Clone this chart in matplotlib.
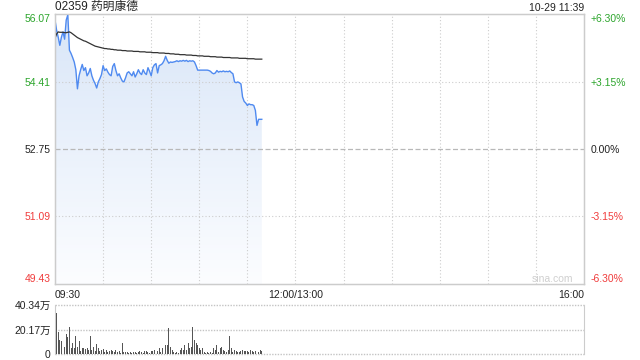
import numpy as np
import matplotlib
matplotlib.use('Agg')
import matplotlib.pyplot as plt
from matplotlib.colors import LinearSegmentedColormap

plt.rcParams['font.family'] = ['Liberation Sans', 'Noto Sans CJK SC', 'DejaVu Sans']

# ---- data (one value per minute from 09:30) ----
title = '02359 药明康德'
stamp = '10-29 11:39'

prices = [
    55.92, 55.67, 55.50, 55.30, 55.50, 55.63, 55.45, 55.92, 56.05, 55.18,
    55.10, 55.00, 54.89, 54.70, 54.23, 54.55, 54.70, 54.83, 54.68, 54.75,
    54.55, 54.62, 54.73, 54.55, 54.44, 54.36, 54.25, 54.40, 54.48, 54.58,
    54.80, 54.68, 54.72, 54.64, 54.58, 54.55, 54.78, 54.85, 54.68, 54.55,
    54.60, 54.50, 54.42, 54.40, 54.50, 54.62, 54.65, 54.60, 54.55, 54.65,
    54.52, 54.60, 54.70, 54.62, 54.58, 54.70, 54.62, 54.58, 54.75, 54.66,
    54.55, 54.75, 54.82, 54.85, 54.62, 54.80, 54.82, 54.85, 54.92, 55.03,
    54.93, 54.86, 54.89, 54.88, 54.89, 54.90, 54.92, 54.90, 54.92, 54.91,
    54.93, 54.91, 54.93, 54.90, 54.92, 54.91, 54.92, 54.89, 54.80, 54.69,
    54.69, 54.69, 54.69, 54.69, 54.69, 54.69, 54.68, 54.66, 54.62, 54.60,
    54.62, 54.68, 54.64, 54.66, 54.65, 54.67, 54.65, 54.66, 54.65, 54.67,
    54.63, 54.60, 54.40, 54.38, 54.40, 54.38, 54.35, 54.03, 53.92, 53.88,
    53.82, 53.86, 53.84, 53.84, 53.82, 53.70, 53.33, 53.48, 53.48, 53.48,
]

avg_prices = [
    55.47, 55.58, 55.63, 55.62, 55.62, 55.62, 55.61, 55.61, 55.62, 55.63,
    55.61, 55.58, 55.55, 55.52, 55.49, 55.47, 55.45, 55.43, 55.41, 55.40,
    55.38, 55.36, 55.34, 55.32, 55.30, 55.28, 55.27, 55.26, 55.25, 55.24,
    55.23, 55.22, 55.22, 55.21, 55.21, 55.20, 55.20, 55.19, 55.19, 55.18,
    55.18, 55.18, 55.17, 55.17, 55.17, 55.16, 55.16, 55.16, 55.16, 55.15,
    55.15, 55.15, 55.15, 55.14, 55.14, 55.14, 55.14, 55.13, 55.13, 55.13,
    55.13, 55.12, 55.12, 55.12, 55.12, 55.11, 55.11, 55.11, 55.11, 55.10,
    55.10, 55.10, 55.09, 55.09, 55.09, 55.08, 55.08, 55.08, 55.07, 55.07,
    55.07, 55.07, 55.06, 55.06, 55.06, 55.06, 55.05, 55.05, 55.05, 55.04,
    55.04, 55.04, 55.04, 55.03, 55.03, 55.03, 55.03, 55.02, 55.02, 55.02,
    55.02, 55.01, 55.01, 55.01, 55.01, 55.00, 55.00, 55.00, 55.00, 55.00,
    54.99, 54.99, 54.99, 54.99, 54.99, 54.98, 54.98, 54.98, 54.98, 54.98,
    54.97, 54.97, 54.97, 54.97, 54.97, 54.96, 54.96, 54.96, 54.96, 54.96,
]

# volume in 万 shares
volumes = [
    40.3, 33.5, 18.4, 11.5, 10.7, 21.1, 6.0, 16.5, 14.3, 22.5,
    4.7, 9.3, 4.7, 14.8, 6.0, 11.0, 2.7, 4.7, 4.7, 3.8,
    4.7, 3.3, 14.8, 3.3, 6.0, 2.7, 8.0, 4.7, 2.5, 3.3,
    3.8, 1.9, 3.3, 1.9, 2.7, 3.3, 2.5, 1.9, 3.3, 1.9,
    2.5, 1.1, 9.3, 1.6, 1.4, 1.9, 1.1, 1.6, 0.8, 1.4,
    1.9, 1.1, 1.6, 2.2, 1.4, 1.1, 2.5, 2.7, 1.9, 1.1,
    2.2, 2.7, 3.3, 7.4, 2.2, 4.7, 1.6, 4.7, 6.0, 7.4,
    7.4, 21.1, 6.0, 3.3, 1.4, 0.8, 1.9, 1.1, 3.3, 4.7,
    3.3, 7.4, 3.3, 8.8, 4.7, 6.0, 22.5, 11.5, 8.8, 7.4,
    4.7, 3.3, 4.7, 1.9, 1.1, 1.9, 1.1, 1.4, 0.8, 4.7,
    3.3, 7.4, 1.9, 4.7, 6.0, 3.3, 2.5, 1.9, 3.3, 14.8,
    4.7, 1.9, 3.3, 2.7, 1.9, 1.9, 2.7, 3.3, 2.7, 2.7,
    2.5, 1.9, 3.3, 2.5, 1.9, 2.5, 3.3, 1.9, 3.3, 2.5,
]

price_ticks = [49.43, 51.09, 52.75, 54.41, 56.07]
price_labels = ['49.43', '51.09', '52.75', '54.41', '56.07']
pct_labels = ['-6.30%', '-3.15%', '0.00%', '+3.15%', '+6.30%']
vol_ticks = [0, 20.17, 40.34]
vol_labels = ['0', '20.17万', '40.34万']
time_ticks = [0, 150, 330]
time_labels = ['09:30', '12:00/13:00', '16:00']
total_minutes = 330
prev_close = 52.75

RED = '#f03c3c'
GREEN = '#2ca52c'
BLACK = '#222222'
GRID = '#cccccc'
DOTC = '#cdcdcd'
DOT = (0, (1, 2))
tick_colors = [RED, RED, BLACK, GREEN, GREEN]

fig = plt.figure(figsize=(6.4, 3.6), dpi=100)
ax = fig.add_axes([55/640, 76/360, 529/640, 270/360])
vax = fig.add_axes([55/640, 6/360, 529/640, 49/360])

x = np.arange(len(prices))
ymin, ymax = price_ticks[0], price_ticks[-1]

# gradient fill under price
poly = ax.fill_between(x, prices, ymin, color='none', lw=0)
grad = np.linspace(1, 0, 256).reshape(-1, 1)
cmap = LinearSegmentedColormap.from_list('g', ['#fcfdff', '#d9e6f8'])
im = ax.imshow(grad, extent=[x[0], x[-1], ymin, max(prices)], aspect='auto',
               cmap=cmap, zorder=1, interpolation='bilinear')
im.set_clip_path(poly.get_paths()[0], ax.transData)

ax.plot(x, prices, color='#4f8af0', lw=1.0, zorder=4)
ax.plot(x, avg_prices, color='#333333', lw=0.9, zorder=4)

# grid
for m in range(30, total_minutes, 30):
    ax.axvline(m, color=DOTC, lw=0.8, ls=DOT, zorder=2)
for p in price_ticks[1:-1]:
    if p == prev_close:
        ax.axhline(p, color='#b8b8b8', lw=0.9, ls=(0, (4, 2)), zorder=2)
    else:
        ax.axhline(p, color=DOTC, lw=0.8, ls=DOT, zorder=2)

ax.set_xlim(0, total_minutes)
ax.set_ylim(ymin, ymax)
for s in ax.spines.values():
    s.set_color(GRID)
    s.set_linewidth(1)

ax.set_yticks(price_ticks, price_labels)
ax.tick_params(axis='y', length=0, labelsize=7.5, pad=3)
for lab, c in zip(ax.get_yticklabels(), tick_colors):
    lab.set_color(c)
ax.get_yticklabels()[0].set_va('bottom')
ax.get_yticklabels()[-1].set_va('top')

ax.set_xticks(time_ticks, time_labels)
ax.tick_params(axis='x', length=0, labelsize=7.5, pad=4, colors=BLACK)
for lab, ha in zip(ax.get_xticklabels(), ['left', 'center', 'right']):
    lab.set_ha(ha)

ax2 = ax.twinx()
ax2.set_ylim(ymin, ymax)
ax2.set_yticks(price_ticks, pct_labels)
ax2.tick_params(axis='y', length=0, labelsize=7.5, pad=5)
for lab, c in zip(ax2.get_yticklabels(), tick_colors):
    lab.set_color(c)
ax2.get_yticklabels()[0].set_va('bottom')
ax2.get_yticklabels()[-1].set_va('top')
for s in ax2.spines.values():
    s.set_color(GRID)

ax.text(0.941, 0.02, 'sina.com', transform=ax.transAxes, color='#cfcfcf',
        fontsize=7.5, ha='center', va='center')

# volume panel
vax.bar(x, volumes, width=0.6, color='#555555', zorder=3)
vax.set_xlim(0, total_minutes)
vax.set_ylim(0, vol_ticks[-1])
for v in vol_ticks:
    vax.axhline(v, color='#c4c4c4', lw=1, ls=(0, (1, 1)), zorder=2, clip_on=False)
vax.spines['top'].set_visible(False)
vax.spines['bottom'].set_visible(False)
vax.spines['left'].set_color(GRID)
vax.spines['right'].set_color(GRID)
vax.set_xticks([])
vax.set_yticks(vol_ticks, vol_labels)
vax.tick_params(axis='y', length=0, labelsize=7.5, pad=3, colors=BLACK)

fig.text(55/640, 1 - 7/360, title, fontsize=8.5, ha='left', va='center', color=BLACK)
fig.text(584/640, 1 - 8/360, stamp, fontsize=7.5, ha='right', va='center', color=BLACK)

fig.savefig('out.png', dpi=100)
